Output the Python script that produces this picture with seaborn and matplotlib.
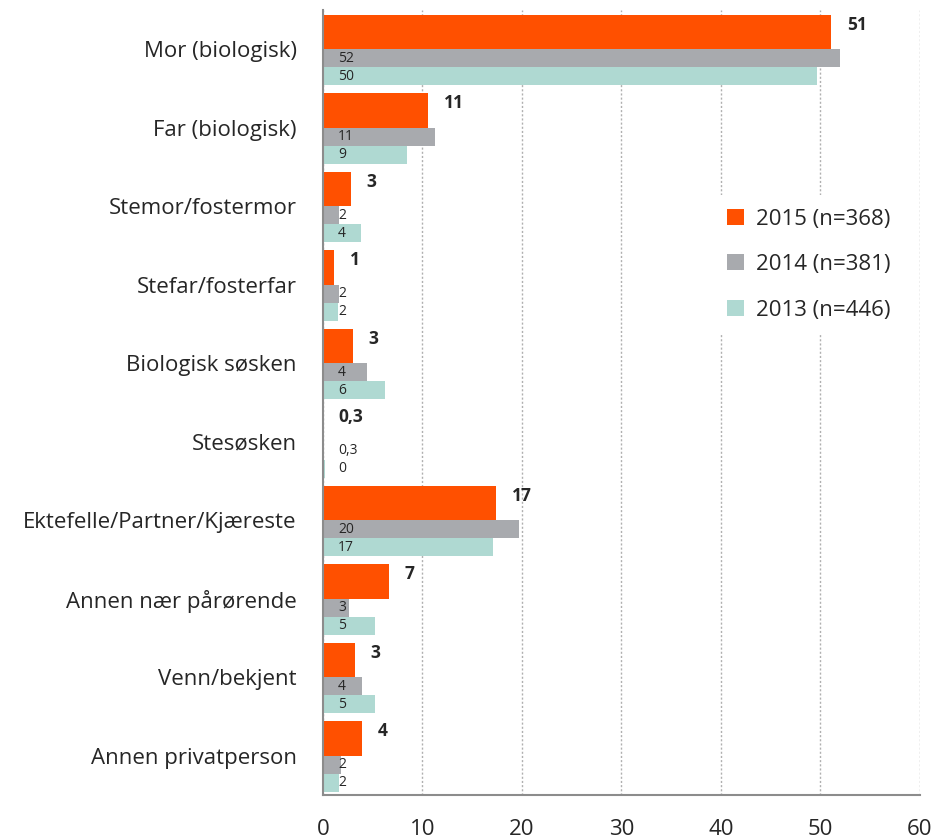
import numpy as np
import pandas as pd
import matplotlib
matplotlib.use("Agg")
import matplotlib.pyplot as plt
from matplotlib.patches import Patch
import seaborn as sns

sns.set_style("white")
plt.rcParams["font.family"] = ["Open Sans", "DejaVu Sans"]

# ---------------------------------------------------------------
# data (percent)
# ---------------------------------------------------------------
categories = ["Mor (biologisk)", "Far (biologisk)", "Stemor/fostermor",
              "Stefar/fosterfar", "Biologisk søsken", "Stesøsken",
              "Ektefelle/Partner/Kjæreste", "Annen nær pårørende",
              "Venn/bekjent", "Annen privatperson"]
series = ["2015 (n=368)", "2014 (n=381)", "2013 (n=446)"]

v2015 = [51.1, 10.6, 2.8, 1.1, 3.0, 0.0, 17.4, 6.6, 3.2, 3.9]
v2014 = [52.0, 11.3, 1.6, 1.6, 4.4, 0.0, 19.7, 2.6, 3.9, 1.8]
v2013 = [49.7, 8.4, 3.8, 1.5, 6.2, 0.2, 17.1, 5.2, 5.2, 1.6]

lab2015 = ["51", "11", "3", "1", "3", "0,3", "17", "7", "3", "4"]
lab2014 = ["52", "11", "2", "2", "4", "0,3", "20", "3", "4", "2"]
lab2013 = ["50", "9", "4", "2", "6", "0", "17", "5", "5", "2"]

colors = ["#FF5000", "#A8AAAE", "#AFD9D2"]
text_col = "#262626"

df = pd.DataFrame({
    "category": categories * 3,
    "series": np.repeat(series, len(categories)),
    "value": v2015 + v2014 + v2013,
})

fig = plt.figure(figsize=(9.38, 8.4), dpi=100)
ax = fig.add_axes([0.3443, 0.0536, 0.9808 - 0.3443, 0.988 - 0.0536])

sns.barplot(data=df, y="category", x="value", hue="series", orient="h",
            palette=colors, order=categories, hue_order=series,
            width=0.9, dodge=True, legend=False, ax=ax, saturation=1)

# Excel-like layout: thick 2015 bar on top, two thin bars below
offsets = [(-0.44, 0.44), (0.0, 0.23), (0.23, 0.23)]
for cont, (y0, h) in zip(ax.containers, offsets):
    for i, bar in enumerate(cont):
        bar.set_y(i + y0)
        bar.set_height(h)
        bar.set_edgecolor("none")

# value labels
for i in range(len(categories)):
    ax.text(v2015[i] + 1.6, i - 0.31, lab2015[i], ha="left", va="center",
            fontsize=12.5, fontweight="bold", color=text_col)
    ax.text(1.5, i + 0.115, lab2014[i], ha="left", va="center",
            fontsize=10, color=text_col)
    ax.text(1.5, i + 0.345, lab2013[i], ha="left", va="center",
            fontsize=10, color=text_col)

ax.set_xlim(0, 60)
ax.set_ylim(len(categories) - 0.5, -0.5)
ax.set_xticks(np.arange(0, 61, 10))
ax.set_xlabel("")
ax.set_ylabel("")

# y: labels at centres, tick marks on the boundaries
ax.set_yticks(np.arange(len(categories)))
ax.set_yticklabels(categories)
ax.set_yticks(np.arange(len(categories) + 1) - 0.5, minor=True)
ax.tick_params(axis="y", which="major", length=0, pad=19, labelsize=16,
               labelcolor=text_col)
ax.tick_params(axis="y", which="minor", length=6, width=1.2, color="#8c8c8c",
               direction="out")
ax.tick_params(axis="x", length=5, width=1.2, color="#8c8c8c", direction="out",
               pad=12, labelsize=16, labelcolor=text_col)

ax.grid(axis="x", linestyle=(0, (1.5, 1.5)), color="#b0b0b0", linewidth=1)
ax.grid(axis="y", visible=False)
ax.set_axisbelow(True)
for side in ["top", "right"]:
    ax.spines[side].set_visible(False)
for side in ["left", "bottom"]:
    ax.spines[side].set_color("#8c8c8c")
    ax.spines[side].set_linewidth(1.5)

handles = [Patch(facecolor=c, edgecolor="none") for c in colors]
leg = ax.legend(handles, series, loc="center left",
                bbox_to_anchor=(0.749, 0.685), bbox_transform=fig.transFigure,
                frameon=True, fontsize=16, handlelength=0.75, handleheight=0.75,
                handletextpad=0.55, labelspacing=1.1, borderpad=0.6)
leg.get_frame().set_facecolor("white")
leg.get_frame().set_edgecolor("none")
leg.get_frame().set_alpha(1)
for t in leg.get_texts():
    t.set_color(text_col)

fig.savefig("out.png", dpi=100)
